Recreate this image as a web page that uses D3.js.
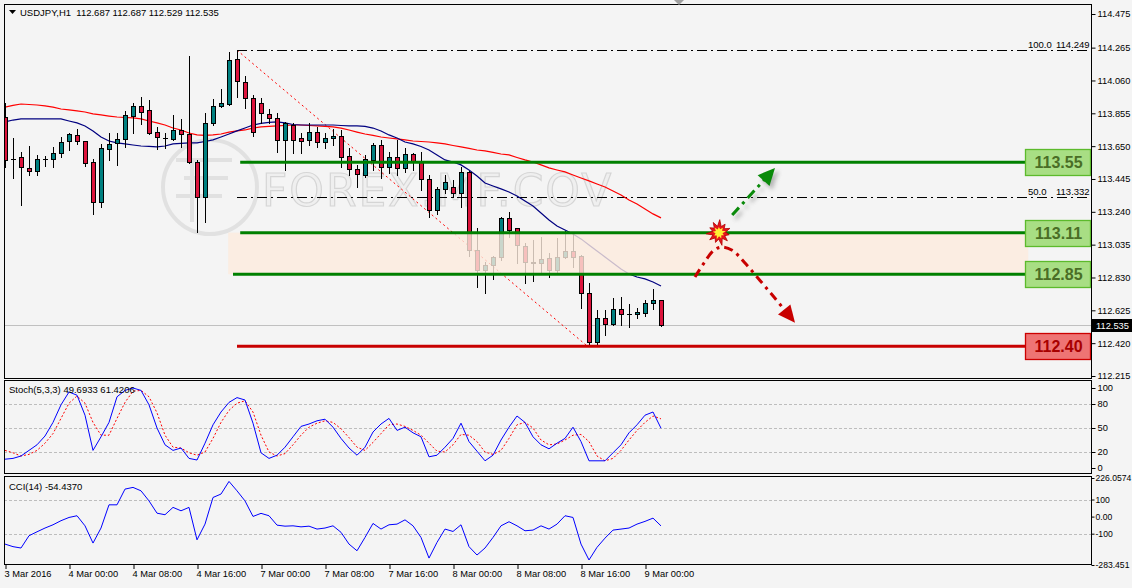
<!DOCTYPE html>
<html><head><meta charset="utf-8">
<script src="https://cdn.jsdelivr.net/npm/d3@7"></script>
<style>
html,body{margin:0;padding:0;background:#f4f4f4;}
svg{display:block;font-family:"Liberation Sans",Arial,sans-serif;}
</style></head><body>
<svg id="c" width="1132" height="588"></svg>
<script>
// ---------------- DATA ----------------
const title = "USDJPY,H1  112.687 112.687 112.529 112.535";
const timeTickBars = [0, 8, 16, 24, 32, 40, 48, 56, 64, 72, 80];
const timeTickLabels = ["3 Mar 2016","4 Mar 00:00","4 Mar 08:00","4 Mar 16:00","7 Mar 00:00","7 Mar 08:00","7 Mar 16:00","8 Mar 00:00","8 Mar 08:00","8 Mar 16:00","9 Mar 00:00"];

const opens = [113.832,113.570,113.582,113.514,113.495,113.570,113.570,113.607,113.682,113.720,
113.682,113.551,113.302,113.632,113.670,113.695,113.838,113.901,113.876,113.738,
113.701,113.695,113.751,113.726,113.551,113.333,113.795,113.901,113.913,114.194,
114.051,113.951,113.920,113.851,113.826,113.689,113.782,113.701,113.689,113.738,
113.676,113.701,113.714,113.589,113.508,113.470,113.564,113.657,113.520,113.582,
113.514,113.601,113.551,113.445,113.252,113.383,113.395,113.358,113.489,113.002,
112.877,112.908,112.958,113.202,113.139,113.027,112.927,112.921,112.952,112.877,
112.958,112.996,112.964,112.734,112.428,112.577,112.540,112.634,112.602,112.602,
112.609,112.671,112.687];
const highs = [113.920,113.701,113.614,113.651,113.595,113.589,113.645,113.707,113.732,113.757,
113.682,113.570,113.664,113.732,113.732,113.870,113.920,113.957,113.938,113.770,
113.732,113.845,113.820,114.213,113.564,113.857,113.944,114.007,114.238,114.249,
114.088,113.969,113.951,113.882,113.857,113.801,113.795,113.732,113.795,113.770,
113.732,113.757,113.751,113.639,113.533,113.595,113.670,113.689,113.614,113.689,
113.639,113.607,113.614,113.470,113.395,113.470,113.439,113.520,113.495,113.139,
112.927,112.964,113.208,113.239,113.139,113.046,113.064,113.083,112.983,113.077,
113.121,113.108,112.971,112.796,112.627,112.627,112.702,112.709,112.665,112.640,
112.690,112.758,112.687];
const lows = [113.520,113.451,113.283,113.470,113.470,113.526,113.520,113.582,113.626,113.664,
113.526,113.227,113.270,113.564,113.533,113.645,113.732,113.788,113.726,113.632,
113.639,113.689,113.645,113.545,113.114,113.177,113.782,113.894,113.907,113.957,
113.888,113.714,113.795,113.795,113.614,113.501,113.607,113.607,113.657,113.645,
113.639,113.657,113.520,113.470,113.395,113.458,113.501,113.451,113.483,113.470,
113.489,113.501,113.376,113.208,113.227,113.358,113.333,113.270,112.964,112.771,
112.734,112.821,112.940,113.083,112.921,112.796,112.808,112.858,112.833,112.852,
112.952,112.896,112.640,112.403,112.415,112.471,112.534,112.534,112.521,112.577,
112.590,112.634,112.529];
const closes = [113.564,113.567,113.520,113.495,113.570,113.567,113.607,113.676,113.726,113.682,
113.545,113.302,113.639,113.664,113.695,113.845,113.901,113.863,113.732,113.707,
113.698,113.751,113.726,113.551,113.333,113.795,113.901,113.920,114.188,114.057,
113.951,113.738,113.857,113.826,113.689,113.795,113.689,113.682,113.738,113.676,
113.701,113.714,113.582,113.508,113.476,113.570,113.657,113.520,113.582,113.514,
113.601,113.551,113.445,113.252,113.383,113.426,113.358,113.489,113.002,112.877,
112.908,112.958,113.202,113.127,113.033,112.927,112.921,112.946,112.877,112.958,
112.996,112.958,112.734,112.428,112.577,112.540,112.634,112.602,112.599,112.615,
112.671,112.690,112.535];

// moving averages (red = slow, navy = fast)
const maSlow = [113.894,113.904,113.913,113.910,113.907,113.901,113.894,113.882,113.876,113.870,
113.863,113.851,113.845,113.838,113.832,113.829,113.826,113.820,113.807,113.795,
113.782,113.763,113.751,113.732,113.720,113.717,113.720,113.726,113.738,113.745,
113.751,113.763,113.770,113.773,113.776,113.779,113.782,113.782,113.779,113.776,
113.773,113.770,113.763,113.751,113.738,113.726,113.717,113.707,113.701,113.695,
113.689,113.682,113.679,113.676,113.670,113.664,113.654,113.645,113.636,113.626,
113.620,113.611,113.601,113.595,113.579,113.564,113.551,113.533,113.514,113.501,
113.489,113.470,113.451,113.433,113.414,113.395,113.370,113.345,113.314,113.289,
113.258,113.227,113.202];
const maFast = [113.801,113.813,113.820,113.820,113.820,113.820,113.820,113.820,113.807,113.795,
113.776,113.745,113.707,113.682,113.670,113.664,113.657,113.651,113.648,113.645,
113.651,113.664,113.667,113.670,113.670,113.679,113.689,113.707,113.726,113.745,
113.763,113.782,113.792,113.798,113.801,113.795,113.785,113.782,113.782,113.782,
113.782,113.782,113.779,113.776,113.776,113.773,113.763,113.745,113.720,113.701,
113.676,113.664,113.648,113.626,113.595,113.564,113.551,113.533,113.501,113.464,
113.420,113.401,113.383,113.364,113.339,113.308,113.276,113.233,113.189,113.152,
113.127,113.102,113.071,113.033,112.996,112.958,112.921,112.883,112.852,112.833,
112.821,112.802,112.777];

const stochK = [11,12,15,22,29,40,57,79,95,91, 66,22,39,57,89,97,100,97,79,50,
29,22,25,12,10,31,54,70,82,88, 85,56,19,12,16,26,39,52,55,59,
61,51,37,25,16,26,45,55,62,47, 51,44,39,14,16,26,37,56,33,21,
9,16,35,51,65,57,39,29,24,31, 37,51,33,9,9,9,19,29,44,54, 66,70,49.6933];
const stochD = [22,19,15,17,22,31,43,62,81,90, 81,57,41,41,62,82,96,97,89,69,
41,26,25,19,16,20,37,57,72,81, 84,70,41,20,15,18,29,41,51,56,
59,57,49,38,26,22,32,43,54,55, 52,47,41,31,21,20,29,42,41,33,
20,17,22,37,54,57,50,35,29,30, 35,41,42,33,15,9,12,22,35,47, 57,65,61.4206];
const cci = [-161,-176,-184,-112,-89,-67,-48,-24,-5,5, -54,-155,-67,69,69,161,171,151,92,20,
11,54,34,54,-136,-44,112,132,206,151, 92,1,19,5,-50,-56,-54,-60,-56,-73,
-67,-54,-92,-161,-200,-122,-40,-73,-48,-44, -19,-54,-122,-243,-151,-73,-87,-48,-176,-225,
-184,-122,-54,-30,-54,-83,-79,-54,-73,-44, 5,-5,-161,-254,-180,-126,-79,-73,-67,-44, -28,-9,-54.437];

const priceTicks = [114.475,114.265,114.060,113.855,113.650,113.445,113.240,113.035,112.830,112.625,112.420,112.215];
const stochTicks = [100,80,50,20,0];
const stochGrid = [80,50,20];
const cciTicks = [226.0574,100,0,-100,-283.451];
const cciTickLabels = ["226.0574","100","0.00","-100","-283.451"];
const cciGrid = [100,-100];

const levelPrices = [113.55, 113.11, 112.85, 112.40];
const levelLabels = ["113.55","113.11","112.85","112.40"];
const levelKinds = ["res","res","res","sup"];
const levelStartBar = [29.4, 29.4, 28.5, 29.0];
const zonePrices = [113.11, 112.85];
const fibPct = ["100.0","50.0"];
const fibPrices = [114.249, 113.332];
const fibTrendBars = [29, 73];
const fibTrendPrices = [114.249, 112.403];
const lastPrice = 112.535;
const stochTitle = "Stoch(5,3,3) 49.6933 61.4206";
const cciTitle = "CCI(14) -54.4370";
// scenario annotations: [bar, price]
const upArrow = [[90.9,113.220],[96.25,113.514]];
const downArrow = [[86.25,112.833],[87.5,112.93],[88.6,113.0],[89.6,113.02],[90.9,113.0],[92.5,112.92],[94.4,112.81],[96.25,112.70],[97.9,112.60],[98.75,112.548]];
const breakPoint = [89.25, 113.11];

// ---------------- LAYOUT ----------------
const W = 1132, H = 588;
const L = 4, R = 1091;
const mainTop = 4, mainBot = 379, stTop = 381, stBot = 475, ccTop = 477, ccBot = 565;
const svg = d3.select("#c");
svg.append("rect").attr("width", W).attr("height", H).attr("fill", "#f4f4f4");

const x = d3.scaleLinear().domain([0, 135.75]).range([5, 1091]);
const y = d3.scaleLinear().domain([112.215, 114.475]).range([376, 14]);
const ys = d3.scaleLinear().domain([0, 100]).range([468, 388]);
const yc = d3.scaleLinear().domain([-283.451, 226.0574]).range([565, 478]);

const defs = svg.append("defs");
[["clipMain", mainTop, mainBot], ["clipSt", stTop, stBot], ["clipCc", ccTop, ccBot]].forEach(([id, t, b]) => {
  defs.append("clipPath").attr("id", id).append("rect").attr("x", L + 1).attr("y", t + 1).attr("width", R - L - 1).attr("height", b - t - 1);
});
const blur = defs.append("filter").attr("id", "sh").attr("x", "-50%").attr("y", "-50%").attr("width", "200%").attr("height", "200%");
blur.append("feGaussianBlur").attr("stdDeviation", 2);

// ---------------- MAIN PANEL ----------------
const main = svg.append("g").attr("clip-path", "url(#clipMain)");

// watermark
const wm = main.append("g").attr("opacity", 0.5);
wm.append("circle").attr("cx", 210).attr("cy", 187).attr("r", 47).attr("fill", "none").attr("stroke", "#cfcfcf").attr("stroke-width", 4);
wm.append("path").attr("d", "M176,160 H232 M184,178 H228 M192,160 V222 M176,196 H222").attr("stroke", "#cfcfcf").attr("stroke-width", 4).attr("fill", "none");
wm.append("text").attr("x", 262).attr("y", 206).attr("font-size", 44).attr("font-family", "DejaVu Sans, sans-serif")
  .attr("fill", "#ececec").attr("stroke", "#b8b8b8").attr("stroke-width", 1.2).attr("letter-spacing", 2).text("FOREX.MF.COV");

// current price line
main.append("line").attr("x1", L).attr("x2", R).attr("y1", Math.round(y(lastPrice)) + 0.5).attr("y2", Math.round(y(lastPrice)) + 0.5).attr("stroke", "#c0c0c0");

// fib lines
fibPrices.forEach((p, k) => {
  const yy = Math.round(y(p)) + 0.5;
  main.append("line").attr("x1", x(29)).attr("x2", x(135.4)).attr("y1", yy).attr("y2", yy)
    .attr("stroke", "#000").attr("stroke-dasharray", "10,4,2,4");
  main.append("text").attr("x", 1028).attr("y", yy - 3).attr("font-size", 9.5).attr("fill", "#000").text(fibPct[k]);
  main.append("text").attr("x", 1056).attr("y", yy - 3).attr("font-size", 9.5).attr("fill", "#000").text(p.toFixed(3));
});
main.append("line").attr("x1", x(fibTrendBars[0])).attr("y1", y(fibTrendPrices[0])).attr("x2", x(fibTrendBars[1]) - 2).attr("y2", y(fibTrendPrices[1]))
  .attr("stroke", "#ff0000").attr("stroke-dasharray", "2,3");

// moving averages
const lineMain = d3.line().x((d, i) => x(i)).y(d => y(d));
main.append("path").datum(maSlow).attr("d", lineMain).attr("fill", "none").attr("stroke", "#ff0000").attr("stroke-width", 1.2);
main.append("path").datum(maFast).attr("d", lineMain).attr("fill", "none").attr("stroke", "#000080").attr("stroke-width", 1.2);

// candles
const cg = main.append("g");
opens.forEach((o, i) => {
  const c = closes[i];
  const cx = Math.round(x(i));
  cg.append("line").attr("x1", cx + 0.5).attr("x2", cx + 0.5).attr("y1", Math.round(y(highs[i]))).attr("y2", Math.round(y(lows[i])) + 1).attr("stroke", "#000");
  const top = Math.round(y(Math.max(o, c))), bot = Math.round(y(Math.min(o, c)));
  if (bot - top < 1) {
    cg.append("line").attr("x1", cx - 2).attr("x2", cx + 3).attr("y1", top + 0.5).attr("y2", top + 0.5).attr("stroke", "#000");
  } else {
    cg.append("rect").attr("x", cx - 1.5).attr("y", top + 0.5).attr("width", 4).attr("height", bot - top)
      .attr("fill", c >= o ? "#008080" : "#dc143c").attr("stroke", "#000");
  }
});

// zone (drawn over the bars, semi-opaque)
main.append("rect").attr("x", x(27.9)).attr("width", x(127.9) - x(27.9))
  .attr("y", y(zonePrices[0])).attr("height", y(zonePrices[1]) - y(zonePrices[0]))
  .attr("fill", "#fdebdd").attr("opacity", 0.8);

// levels
const boxL = 1025, boxR = 1090;
levelPrices.forEach((p, k) => {
  const yy = y(p);
  const res = levelKinds[k] === "res";
  main.append("line").attr("x1", x(levelStartBar[k])).attr("x2", boxL).attr("y1", yy).attr("y2", yy)
    .attr("stroke", res ? "#008000" : "#c80000").attr("stroke-width", 3);
  main.append("rect").attr("x", boxL + 0.5).attr("y", Math.round(yy - 13) + 0.5).attr("width", boxR - boxL).attr("height", 26)
    .attr("fill", res ? "#a8de84" : "#ee7474").attr("stroke", res ? "#5cba2c" : "#cc0000").attr("stroke-width", 1.3);
  main.append("text").attr("x", (boxL + boxR) / 2 + 1).attr("y", yy + 6).attr("text-anchor", "middle")
    .attr("font-size", 16).attr("font-weight", "bold").attr("fill", res ? "#4a6e26" : "#a80000").text(levelLabels[k]);
});

// scenario arrows
function arrowHead(g, p1, p2, color, len, half) {
  const a = Math.atan2(p2[1] - p1[1], p2[0] - p1[0]);
  const tip = p2;
  const bx = tip[0] - len * Math.cos(a), by = tip[1] - len * Math.sin(a);
  const pts = [tip, [bx + half * Math.sin(a), by - half * Math.cos(a)], [bx - half * Math.sin(a), by + half * Math.cos(a)]];
  g.append("polygon").attr("points", pts.map(p => p.join(",")).join(" ")).attr("fill", color);
}
const upPx = upArrow.map(d => [x(d[0]), y(d[1])]);
const dnPx = downArrow.map(d => [x(d[0]), y(d[1])]);
const lineG = d3.line().curve(d3.curveCatmullRom);
const shG = main.append("g").attr("transform", "translate(3,4)").attr("filter", "url(#sh)").attr("opacity", 0.5);
shG.append("path").attr("d", d3.line()(upPx)).attr("stroke", "#777").attr("stroke-width", 3).attr("fill", "none").attr("stroke-dasharray", "10,5,3,5");
arrowHead(shG, upPx[0], upPx[1], "#777", 17, 8);
const arG = main.append("g");
const upAng = Math.atan2(upPx[1][1] - upPx[0][1], upPx[1][0] - upPx[0][0]);
const upEnd = [upPx[1][0] - 10 * Math.cos(upAng), upPx[1][1] - 10 * Math.sin(upAng)];
arG.append("path").attr("d", d3.line()([upPx[0], upEnd])).attr("stroke", "#0a8a0a").attr("stroke-width", 3).attr("fill", "none").attr("stroke-dasharray", "10,5,3,5");
arrowHead(arG, upPx[0], upPx[1], "#0a8a0a", 17, 8);
const n = dnPx.length;
arG.append("path").attr("d", lineG(dnPx.slice(0, n - 1))).attr("stroke", "#c80000").attr("stroke-width", 3).attr("fill", "none").attr("stroke-dasharray", "9,5,3,5");
arrowHead(arG, dnPx[n - 3], dnPx[n - 1], "#c80000", 17, 8);

// explosion
const bp = [x(breakPoint[0]), y(breakPoint[1])];
function star(r1, r2, k, rot) {
  const pts = [];
  for (let i = 0; i < k * 2; i++) {
    const a = rot + i * Math.PI / k;
    const r = i % 2 ? r2 : r1 * (0.8 + 0.2 * ((i / 2) % 3) / 2);
    pts.push([bp[0] + r * Math.cos(a), bp[1] + r * Math.sin(a)]);
  }
  return pts.map(p => p.join(",")).join(" ");
}
arG.append("polygon").attr("points", star(13, 6.5, 11, 0.2)).attr("fill", "#e8141c").attr("stroke", "#b00000").attr("stroke-width", 0.8);
arG.append("polygon").attr("points", star(7, 3.5, 9, 0.5)).attr("fill", "#ffee33");

// main frame
svg.append("rect").attr("x", L + 0.5).attr("y", mainTop + 0.5).attr("width", R - L).attr("height", mainBot - mainTop - 1).attr("fill", "none").attr("stroke", "#000");

function styleAxis(ax) {
  ax.select(".domain").remove();
  ax.selectAll("text").attr("font-size", 9.3).attr("font-family", "Liberation Sans, Arial, sans-serif").attr("fill", "#000");
  ax.selectAll("line").attr("stroke", "#000");
}
// price axis
const axMain = svg.append("g").attr("transform", `translate(${R + 0.5},0)`)
  .call(d3.axisRight(y).tickValues(priceTicks).tickFormat(d3.format(".3f")).tickSize(4).tickPadding(2));
styleAxis(axMain);

// current price tag
const lpY = Math.round(y(lastPrice));
svg.append("rect").attr("x", 1092).attr("y", lpY - 6).attr("width", 40).attr("height", 13).attr("fill", "#000");
svg.append("text").attr("x", 1096).attr("y", lpY + 4).attr("font-size", 9.3).attr("fill", "#fff").text(lastPrice.toFixed(3));

// title
svg.append("polygon").attr("points", "9,10 16,10 12.5,14").attr("fill", "#000");
svg.append("text").attr("x", 20).attr("y", 16).attr("font-size", 9.5).attr("fill", "#000").attr("xml:space", "preserve").text(title);
svg.append("polygon").attr("points", "674,0 684,0 679,5").attr("fill", "#a0a0a0");

// ---------------- STOCHASTIC ----------------
const st = svg.append("g").attr("clip-path", "url(#clipSt)");
stochGrid.forEach(v => st.append("line").attr("x1", L).attr("x2", R).attr("y1", Math.round(ys(v)) + 0.5).attr("y2", Math.round(ys(v)) + 0.5)
  .attr("stroke", "#bdbdbd").attr("stroke-dasharray", "3,2"));
const lineS = d3.line().x((d, i) => x(i)).y(d => ys(d));
st.append("path").datum(stochD).attr("d", lineS).attr("fill", "none").attr("stroke", "#ff0000").attr("stroke-dasharray", "2,2");
st.append("path").datum(stochK).attr("d", lineS).attr("fill", "none").attr("stroke", "#0000ff");
svg.append("rect").attr("x", L + 0.5).attr("y", stTop - 0.5).attr("width", R - L).attr("height", stBot - stTop - 1).attr("fill", "none").attr("stroke", "#000");
svg.append("text").attr("x", 9).attr("y", 393).attr("font-size", 9.5).attr("fill", "#000").text(stochTitle);
const axS = svg.append("g").attr("transform", `translate(${R + 0.5},0)`)
  .call(d3.axisRight(ys).tickValues(stochTicks).tickFormat(d3.format("d")).tickSize(4).tickPadding(2));
styleAxis(axS);

// ---------------- CCI ----------------
const cc = svg.append("g").attr("clip-path", "url(#clipCc)");
cciGrid.forEach(v => cc.append("line").attr("x1", L).attr("x2", R).attr("y1", Math.round(yc(v)) + 0.5).attr("y2", Math.round(yc(v)) + 0.5)
  .attr("stroke", "#bdbdbd").attr("stroke-dasharray", "3,2"));
const lineC = d3.line().x((d, i) => x(i)).y(d => yc(d));
cc.append("path").datum(cci).attr("d", lineC).attr("fill", "none").attr("stroke", "#0000ff");
svg.append("rect").attr("x", L + 0.5).attr("y", ccTop - 0.5).attr("width", R - L).attr("height", ccBot - ccTop).attr("fill", "none").attr("stroke", "#000");
svg.append("text").attr("x", 9).attr("y", 490).attr("font-size", 9.5).attr("fill", "#000").text(cciTitle);
const axC = svg.append("g").attr("transform", `translate(${R + 0.5},0)`)
  .call(d3.axisRight(yc).tickValues(cciTicks).tickFormat((d, i) => cciTickLabels[i]).tickSize(3).tickPadding(1));
styleAxis(axC);
axC.selectAll("text").attr("font-size", 8.6);

// ---------------- TIME AXIS ----------------
const axT = svg.append("g").attr("transform", `translate(0,${ccBot})`)
  .call(d3.axisBottom(x).tickValues(timeTickBars).tickFormat((d, i) => timeTickLabels[i]).tickSize(4).tickPadding(1));
styleAxis(axT);
axT.selectAll("line").attr("transform", "translate(0.5,0)");
axT.selectAll("text").attr("text-anchor", "start").attr("dx", -1).attr("font-size", 9.3);
</script>
</body></html>
